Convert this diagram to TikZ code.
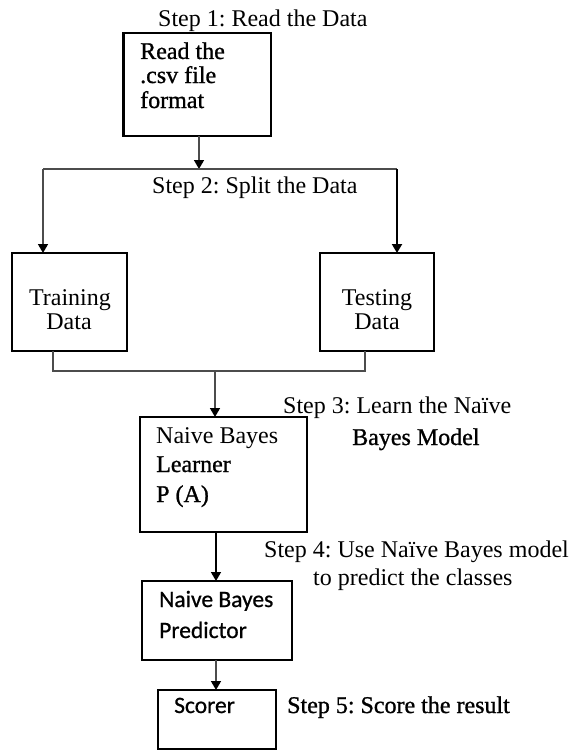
\documentclass[tikz,border=0pt]{standalone}
\usepackage{fontspec}
\setmainfont{Liberation Serif}
\newfontfamily\heavyfont[FakeBold=1.0]{Liberation Serif}
\newfontfamily\calfont[FakeBold=0.8]{Carlito}
\usetikzlibrary{arrows.meta}

\begin{document}
\frenchspacing
\begin{tikzpicture}[x=1pt,y=-1pt,
  box/.style={draw=black, line width=1.5pt, rectangle, inner sep=0pt, outer sep=0pt, anchor=north west},
  txt/.style={inner sep=0pt, anchor=base west, font=\fontsize{24}{29}\selectfont},
  ctxt/.style={inner sep=0pt, anchor=base, font=\fontsize{24}{29}\selectfont},
  btxt/.style={inner sep=0pt, anchor=base west, font=\fontsize{24}{29}\heavyfont},
  stxt/.style={inner sep=0pt, anchor=base west, font=\fontsize{23.5}{28}\calfont},
  conn/.style={draw=black!70, line width=1.5pt},
  arr/.style={-{Triangle[width=10pt,length=9pt,color=black]}}
]
\useasboundingbox (0,0) rectangle (571,752);

% boxes
\node[box, minimum width=148pt, minimum height=103pt] (read) at (123,33) {};
\node[box, minimum width=115pt, minimum height=98pt] (train) at (12,253) {};
\node[box, minimum width=114pt, minimum height=98pt] (test) at (320,253) {};
\node[box, minimum width=167pt, minimum height=115pt] (learn) at (140,417) {};
\node[box, minimum width=150pt, minimum height=79pt] (pred) at (142,581) {};
\node[box, minimum width=118pt, minimum height=59pt] (score) at (158,690) {};

% heavier left/right edges on some boxes
\draw[line width=3pt] (read.north west) -- (read.south west);
\draw[line width=2.5pt] (test.north east) -- (test.south east);
\draw[line width=2.5pt] (pred.north west) -- (pred.south west);

% step captions
\node[txt] (s1) at (158,27) {Step 1: Read the Data};
\node[txt] (s2) at (152,193) {Step 2: Split the Data};
\node[txt] (s3a) at (283,413) {Step 3: Learn the Naïve};
\node[btxt] (s3b) at (352,445) {Bayes Model};
\node[txt] (s4a) at (264,557) {Step 4: Use Naïve Bayes model};
\node[txt] (s4b) at (313,585) {to predict the classes};
\node[btxt] (s5) at (287,713) {Step 5: Score the result};

% box contents
\node[btxt] (r1) at (140,59) {Read the};
\node[btxt] (r2) at (140,83) {.csv file};
\node[btxt] (r3) at (140,108) {format};
\node[ctxt] (tr1) at (70,305) {Training};
\node[ctxt] (tr2) at (69,329) {Data};
\node[ctxt] (te1) at (377,305) {Testing};
\node[ctxt] (te2) at (377,329) {Data};
\node[txt] (l1) at (156,443) {Naive Bayes};
\node[btxt] (l2) at (156,472) {Learner};
\node[btxt] (l3) at (156,502) {P (A)};
\node[stxt] (p1) at (159,607) {Naive Bayes};
\node[stxt] (p2) at (159,638) {Predictor};
\node[stxt] (sc) at (174,713) {Scorer};

% split of the data
\coordinate (split) at (199,169);
\coordinate (sl) at (43,169);
\coordinate (sr) at (397,169);
\draw[conn, arr] (read.south -| split) -- (split);
\draw[conn] (sl) -- (sr);
\draw[conn, arr] (sl) -- (sl |- train.north);
\draw[conn, draw=black, line width=2pt, arr] (sr) -- (sr |- test.north);

% merge into the learner
\coordinate (ml) at (53,371);
\coordinate (mr) at (365,371);
\coordinate (merge) at (215,371);
\draw[conn] (train.south -| ml) -- (ml) -- (mr) -- (test.south -| mr);
\draw[conn, arr] (merge) -- (merge |- learn.north);

% learner -> predictor -> scorer
\coordinate (col) at (216,0);
\draw[conn, draw=black, arr] (learn.south -| col) -- (pred.north -| col);
\draw[conn, arr] (pred.south -| col) -- (score.north -| col);
\end{tikzpicture}
\end{document}
